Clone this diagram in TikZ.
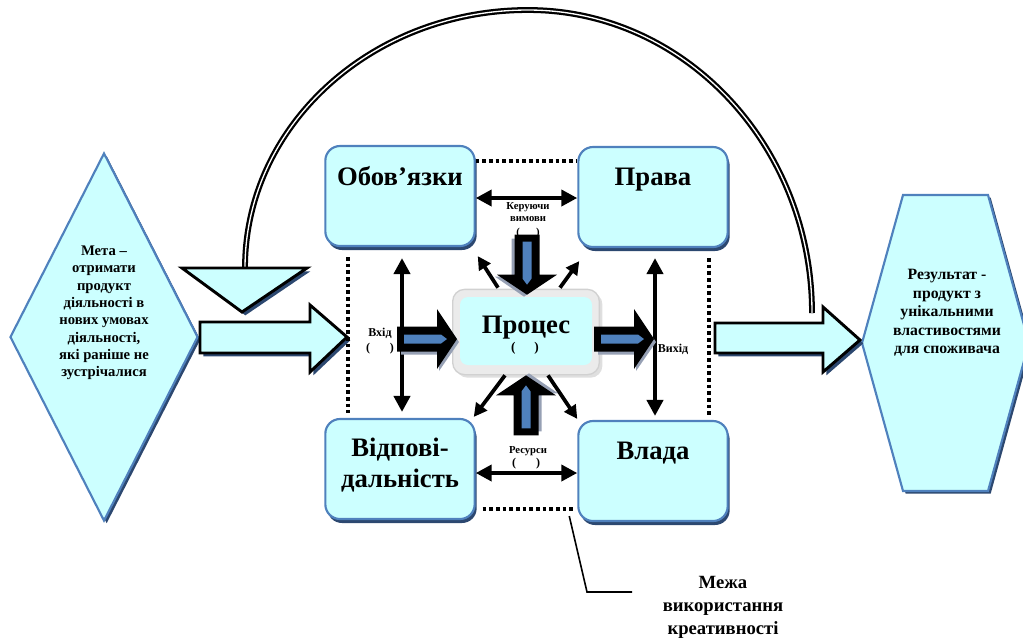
\documentclass[tikz,border=0pt]{standalone}
\usepackage{fontspec}
\setmainfont{Liberation Serif}
\usetikzlibrary{positioning, arrows.meta, calc, shadows, shapes.geometric}
\definecolor{cyanbg}{RGB}{204,255,255}
\definecolor{boxln}{RGB}{79,129,189}
\definecolor{boxshd}{RGB}{44,72,112}
\definecolor{arrshd}{RGB}{150,160,180}
\tikzset{
  box/.style={draw=boxln, line width=1.6pt, fill=cyanbg, rounded corners=11pt,
    minimum width=112pt, minimum height=75pt, inner sep=0pt,
    general shadow={fill=boxshd, shadow xshift=1.5pt, shadow yshift=-3pt}},
  boxlab/.style={font=\fontsize{20}{23}\selectfont\bfseries, align=center, inner sep=0pt},
  smlab/.style={font=\fontsize{8}{9.5}\selectfont\bfseries, align=center, inner sep=0pt},
  txt/.style={font=\fontsize{11}{13}\selectfont\bfseries, align=center, inner sep=0pt},
  hollow/.style={fill=cyanbg, draw=black, line width=2.2pt, line join=miter,
    general shadow={fill=boxshd, shadow xshift=2.5pt, shadow yshift=-2.5pt}},
  sidebox/.style={fill=cyanbg, draw=boxln, line width=1.6pt,
    general shadow={fill=boxshd, shadow xshift=2pt, shadow yshift=-2pt}},
  bnd/.style={line width=3pt, dash pattern=on 2.6pt off 2.4pt},
  dbl/.style={{Triangle[length=12pt,width=12pt]}-{Triangle[length=12pt,width=12pt]}, line width=3pt},
  diag/.style={-{Triangle[length=10pt,width=10pt]}, line width=2.8pt},
  fback/.style={draw=black, line width=1.7pt, double=white, double distance=1pt},
  pics/procarr/.style={code={
    \fill[arrshd] (-56,-9.5) -- (-18,-9.5) -- (-18,-26) -- (2,3) -- (-18,32) -- (-18,15.5) -- (-56,15.5) -- cycle;
    \fill[black] (-60,-12.5) -- (-20,-12.5) -- (-20,-30) -- (0,0) -- (-20,30) -- (-20,12.5) -- (-60,12.5) -- cycle;
    \fill[boxln] (-53,-4.5) -- (-16,-4.5) -- (-10,0) -- (-16,4.5) -- (-53,4.5) -- cycle;
  }}
}

\begin{document}
\begin{tikzpicture}[x=0.75pt, y=-0.75pt,
  procfrm/.style={fill=black!8, draw=black!18, line width=1pt, rounded corners=9pt,
    minimum width=110pt, minimum height=64pt, drop shadow={opacity=0.25}},
  procin/.style={fill=cyanbg, rounded corners=6pt, minimum width=99pt, minimum height=51pt},
  mezh/.style={font=\fontsize{14}{17.3}\selectfont\bfseries, align=center, inner sep=0pt}]
\useasboundingbox (0,0) rectangle (1023,637);
% ---- feedback loop over the top ----
\coordinate (arcL) at (245,268);
\begin{scope}[shift={(2,3)}]
  \draw[boxshd, line width=1.4pt] (arcL) arc[start angle=180, end angle=270, x radius=283, y radius=258]
    arc[start angle=270, end angle=360, x radius=284, y radius=303];
\end{scope}
\draw[fback] (arcL) arc[start angle=180, end angle=270, x radius=283, y radius=258]
  arc[start angle=270, end angle=360, x radius=284, y radius=303] coordinate (arcR);
% ---- goal (left) and result (right) ----
\node[diamond, sidebox, minimum width=141pt, minimum height=276pt, inner sep=0pt] (goal) at (104,337) {};
\node[txt] (goaltxt) at (104,313) {Мета –\\отримати\\продукт\\діяльності в\\нових умовах\\діяльності,\\які раніше не\\зустрічалися};
\path[sidebox] (903,195) -- (988,195) -- (1029,343) -- (988,491) -- (903,491) -- (862,343) -- cycle;
\node[txt, font=\fontsize{11.8}{13.8}\selectfont\bfseries] (restxt) at (947,313) {Результат -\\продукт з\\унікальними\\властивостями\\для споживача};
% ---- hollow arrows ----
\path[hollow] (200,322) -- (310,322) -- (310,305) -- (347,337) -- (310,372) -- (310,353) -- (200,353) -- cycle;
\path[hollow] (715,323) -- (823,323) -- (823,307) -- (860,340) -- (823,372) -- (823,353) -- (715,353) -- cycle;
\path[hollow] (182,268) -- (307,268) -- (242,312) -- cycle;
% ---- four boxes ----
\node[box] (obov) at (400,196) {};
\node[box] (prava) at (653,197) {};
\node[box] (vidp) at (400,469) {};
\node[box] (vlada) at (653,471) {};
\node[boxlab, below=16pt of obov.north] (obovlab) {Обов’язки};
\node[boxlab, below=16pt of prava.north] (pravalab) {Права};
\node[boxlab, below=15pt of vidp.north] (vidplab) {Відпові-\\дальність};
\node[boxlab, below=16pt of vlada.north] (vladalab) {Влада};
% ---- boundary of creativity ----
\draw[bnd] ($(obov.north east)+(0,16)$) -- ($(prava.north west)+(0,15)$);
\draw[bnd] ($(obov.south west)+(24,10)$) -- ($(vidp.north west)+(24,-5)$);
\draw[bnd] ($(prava.south east)+(-20,10)$) -- ($(vlada.north east)+(-20,-2)$);
\draw[bnd] ($(vidp.south east)+(7,-11)$) -- ($(vlada.south west)+(-3,-13)$);
\coordinate (bndend) at ($(vlada.south west)+(-8,-6)$);
\coordinate (legknee) at (587,592);
\coordinate (legend) at (632,592);
\draw[line width=1.2pt] (bndend) -- (legknee) -- (legend);
\node[mezh] (mezhlab) at (723,607) {Межа\\використання\\креативності};
% ---- process ----
\node[procfrm] (proc) at (526,332) {};
\node[procin] (procin) at (526,331) {};
\node[boxlab, anchor=base] (proclab) at (526,333) {Процес};
\node[smlab, font=\fontsize{10}{12}\selectfont\bfseries] (procpar) at (525,348) {(\hspace{14pt})};
% ---- labels ----
\node[smlab] (ctrllab) at (528,212) {Керуючи\\вимови};
\node[smlab] (ctrlpar) at (528,233) {(\hspace{12pt})};
\node[smlab, font=\fontsize{9}{10}\selectfont\bfseries] (inlab) at (380,333) {Вхід};
\node[smlab, font=\fontsize{9}{10}\selectfont\bfseries] (inpar) at (380,349) {(\hspace{15pt})};
\node[smlab, font=\fontsize{9}{10}\selectfont\bfseries] (outlab) at (673,349) {Вихід};
\node[smlab] (reslab) at (528,451) {Ресурси};
\node[smlab, font=\fontsize{9}{10}\selectfont\bfseries] (respar) at (526,464) {(\hspace{15pt})};
% ---- arrows between boxes ----
\draw[dbl] ($(obov.east)+(0,2)$) -- ($(prava.west)+(0,1)$);
\draw[dbl] ($(vidp.east)+(0,4)$) -- ($(vlada.west)+(0,2)$);
\draw[dbl] ($(obov.south)+(2,11)$) -- ($(vidp.north)+(2,-6)$);
\draw[dbl] ($(prava.south)+(2,10)$) -- ($(vlada.north)+(2,-4)$);
\draw[diag] ($(proc.north)+(-28,-1)$) -- ($(obov.south east)+(2,9)$);
\draw[diag] ($(proc.north)+(34,-1)$) -- ($(prava.south west)+(2,13)$);
\draw[diag] ($(proc.south)+(-21,0)$) -- ($(vidp.north east)+(-2,-1)$);
\draw[diag] ($(proc.south)+(22,0)$) -- ($(vlada.north west)+(0,-1)$);
% ---- arrows into and out of the process ----
\pic[rotate=-90] (ctrlarr) at ($(proc.north)+(1,6)$) {procarr};
\pic[rotate=90] (resarr) at (proc.south) {procarr};
\pic (inarr) at ($(proc.west)+(5,7)$) {procarr};
\pic (outarr) at ($(proc.east)+(54,7)$) {procarr};
\end{tikzpicture}
\end{document}
